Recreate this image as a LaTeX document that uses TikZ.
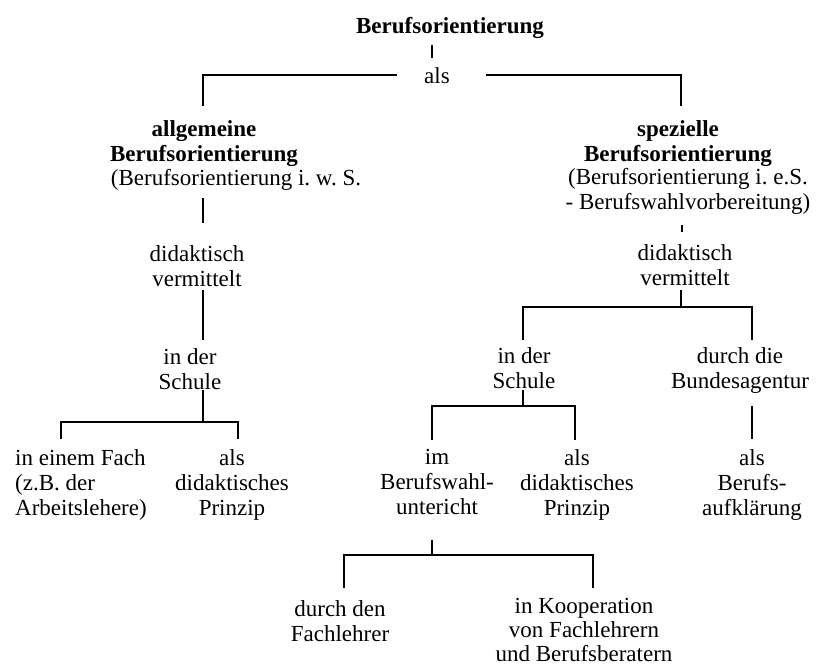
\documentclass[tikz,border=0pt]{standalone}
\usepackage{fontspec}
\setmainfont{Liberation Serif}
\begin{document}
\begin{tikzpicture}[x=1pt,y=-1pt,
  txt/.style={inner sep=0pt, anchor=north, align=center, font=\fontsize{23}{25}\selectfont},
  bold/.style={txt, font=\fontsize{23}{25}\selectfont\bfseries},
  conn/.style={line width=1.3pt, black}]
\useasboundingbox[fill=white] (0,0) rectangle (816,666);

% text nodes
\node[bold] (title) at (450,17) {Berufsorientierung};
\node[txt] (als) at (437,67) {als};
\node[bold] (allg) at (204,120) {allgemeine\\Berufsorientierung};
\node[txt] (allgP) at (236,169) {(Berufsorientierung i.\ w.\ S.};
\node[bold] (spez) at (678,120) {spezielle\\Berufsorientierung};
\node[txt] (spezP) at (688,168) {(Berufsorientierung i.\ e.S.\\- Berufswahlvorbereitung)};
\node[txt] (didL) at (197,245) {didaktisch\\vermittelt};
\node[txt] (didR) at (685,244) {didaktisch\\vermittelt};
\node[txt] (schL) at (190,348) {in der\\Schule};
\node[txt] (schR) at (524,347) {in der\\Schule};
\node[txt] (bund) at (740,347) {durch die\\Bundesagentur};
\node[txt, anchor=north west, align=left] (fach) at (15,449) {in einem Fach\\(z.B. der\\Arbeitslehere)};
\node[txt] (prL) at (232,449) {als\\didaktisches\\Prinzip};
\node[txt] (bwu) at (437,449) {im\\Berufswahl-\\untericht};
\node[txt] (prR) at (577,449) {als\\didaktisches\\Prinzip};
\node[txt] (aufk) at (752,449) {als\\Berufs-\\aufklärung};
\node[txt] (fl) at (340,600) {durch den\\Fachlehrer};
\node[txt, font=\fontsize{23}{24}\selectfont] (koop) at (584,598) {in Kooperation\\von Fachlehrern\\und Berufsberatern};

% connector points
\coordinate (t1) at (432,45);  \coordinate (t2) at (432,58);
\coordinate (hL) at (397,75);  \coordinate (cL) at (203,75);  \coordinate (eL) at (203,106);
\coordinate (hR) at (486,75);  \coordinate (cR) at (681,75);  \coordinate (eR) at (681,106);
\coordinate (p1) at (203,198); \coordinate (p2) at (203,223);
\coordinate (q1) at (682,225); \coordinate (q2) at (682,232);
\coordinate (d1) at (203,290); \coordinate (d2) at (203,340);
\coordinate (s1) at (203,390); \coordinate (s2) at (203,422);
\coordinate (sl1) at (61,422); \coordinate (sl2) at (61,439);
\coordinate (sr1) at (238,422); \coordinate (sr2) at (238,439);
\coordinate (r1) at (681,290); \coordinate (r2) at (681,307);
\coordinate (rl1) at (523,307); \coordinate (rl2) at (523,340);
\coordinate (rr1) at (752,307); \coordinate (rr2) at (752,340);
\coordinate (u1) at (523,390); \coordinate (u2) at (523,406);
\coordinate (ul1) at (432,406); \coordinate (ul2) at (432,440);
\coordinate (ur1) at (575,406); \coordinate (ur2) at (575,440);
\coordinate (b1) at (752,406); \coordinate (b2) at (752,439);
\coordinate (w1) at (432,540); \coordinate (w2) at (432,555);
\coordinate (wl1) at (344,555); \coordinate (wl2) at (344,588);
\coordinate (wr1) at (593,555); \coordinate (wr2) at (593,588);

% connectors
\draw[conn] (t1) -- (t2);
\draw[conn] (hL) -- (cL) -- (eL);
\draw[conn] (hR) -- (cR) -- (eR);
\draw[conn] (p1) -- (p2);
\draw[conn] (q1) -- (q2);
\draw[conn] (d1) -- (d2);
\draw[conn] (s1) -- (s2);
\draw[conn] (sl2) -- (sl1) -- (sr1) -- (sr2);
\draw[conn] (r1) -- (r2);
\draw[conn] (rl2) -- (rl1) -- (rr1) -- (rr2);
\draw[conn] (u1) -- (u2);
\draw[conn] (ul2) -- (ul1) -- (ur1) -- (ur2);
\draw[conn] (b1) -- (b2);
\draw[conn] (w1) -- (w2);
\draw[conn] (wl2) -- (wl1) -- (wr1) -- (wr2);
\end{tikzpicture}
\end{document}
